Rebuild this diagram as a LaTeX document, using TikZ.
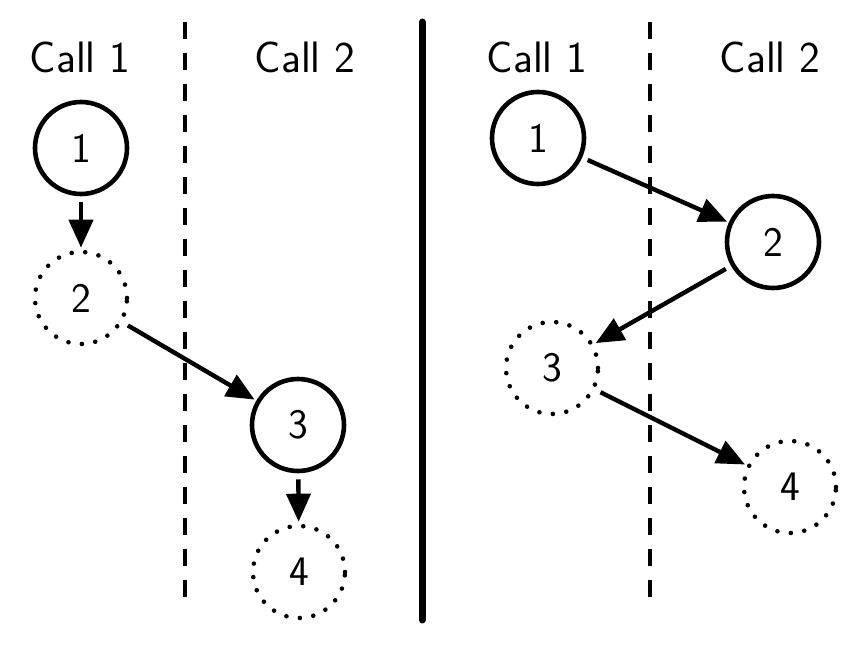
\documentclass[tikz,border=0pt]{standalone}
\usetikzlibrary{arrows.meta}

\begin{document}
\begin{tikzpicture}[x=0.5pt,y=-0.5pt]
    \tikzset{vertex/.style = {shape=circle, draw, line width=2.3pt, minimum size=46pt, inner sep=0pt, font=\sffamily\fontsize{21}{24}\selectfont}}
    \tikzset{ghost/.style = {vertex, dash pattern=on 0pt off 6.8pt, line cap=round}}
    \tikzset{title/.style = {font=\sffamily\fontsize{22}{26}\selectfont}}
    \tikzset{edge/.style = {draw, line width=2.2pt, -{Triangle[length=14pt,width=12pt]}, shorten <=3pt, shorten >=1pt}}
    \tikzset{divider/.style = {line width=2.2pt, dash pattern=on 8.5pt off 7pt}}

    \useasboundingbox (0,0) rectangle (859,647);

    % headings
    \node[title] (lc1) at (80,57) {Call 1};
    \node[title] (lc2) at (305,57) {Call 2};
    \node[title] (rc1) at (537,57) {Call 1};
    \node[title] (rc2) at (770,57) {Call 2};

    % separators
    \draw[divider] (185,22) -- (185,610);
    \draw[divider] (650,22) -- (650,610);
    \draw[line width=3.5pt, line cap=round] (422,22) -- (422,620);

    % vertices
    \node[vertex] (l1) at (81,148) {1};
    \node[ghost]  (l2) at (81,298) {2};
    \node[vertex] (l3) at (298,425) {3};
    \node[ghost]  (l4) at (299,572) {4};

    \node[vertex] (r1) at (538,138) {1};
    \node[vertex] (r2) at (773,242) {2};
    \node[ghost]  (r3) at (552,368) {3};
    \node[ghost]  (r4) at (790,487) {4};

    % edges
    \draw[edge] (l1) to (l2);
    \draw[edge] (l2) to (l3);
    \draw[edge] (l3) to (l4);
    \draw[edge] (r1) to (r2);
    \draw[edge] (r2) to (r3);
    \draw[edge] (r3) to (r4);
\end{tikzpicture}
\end{document}
